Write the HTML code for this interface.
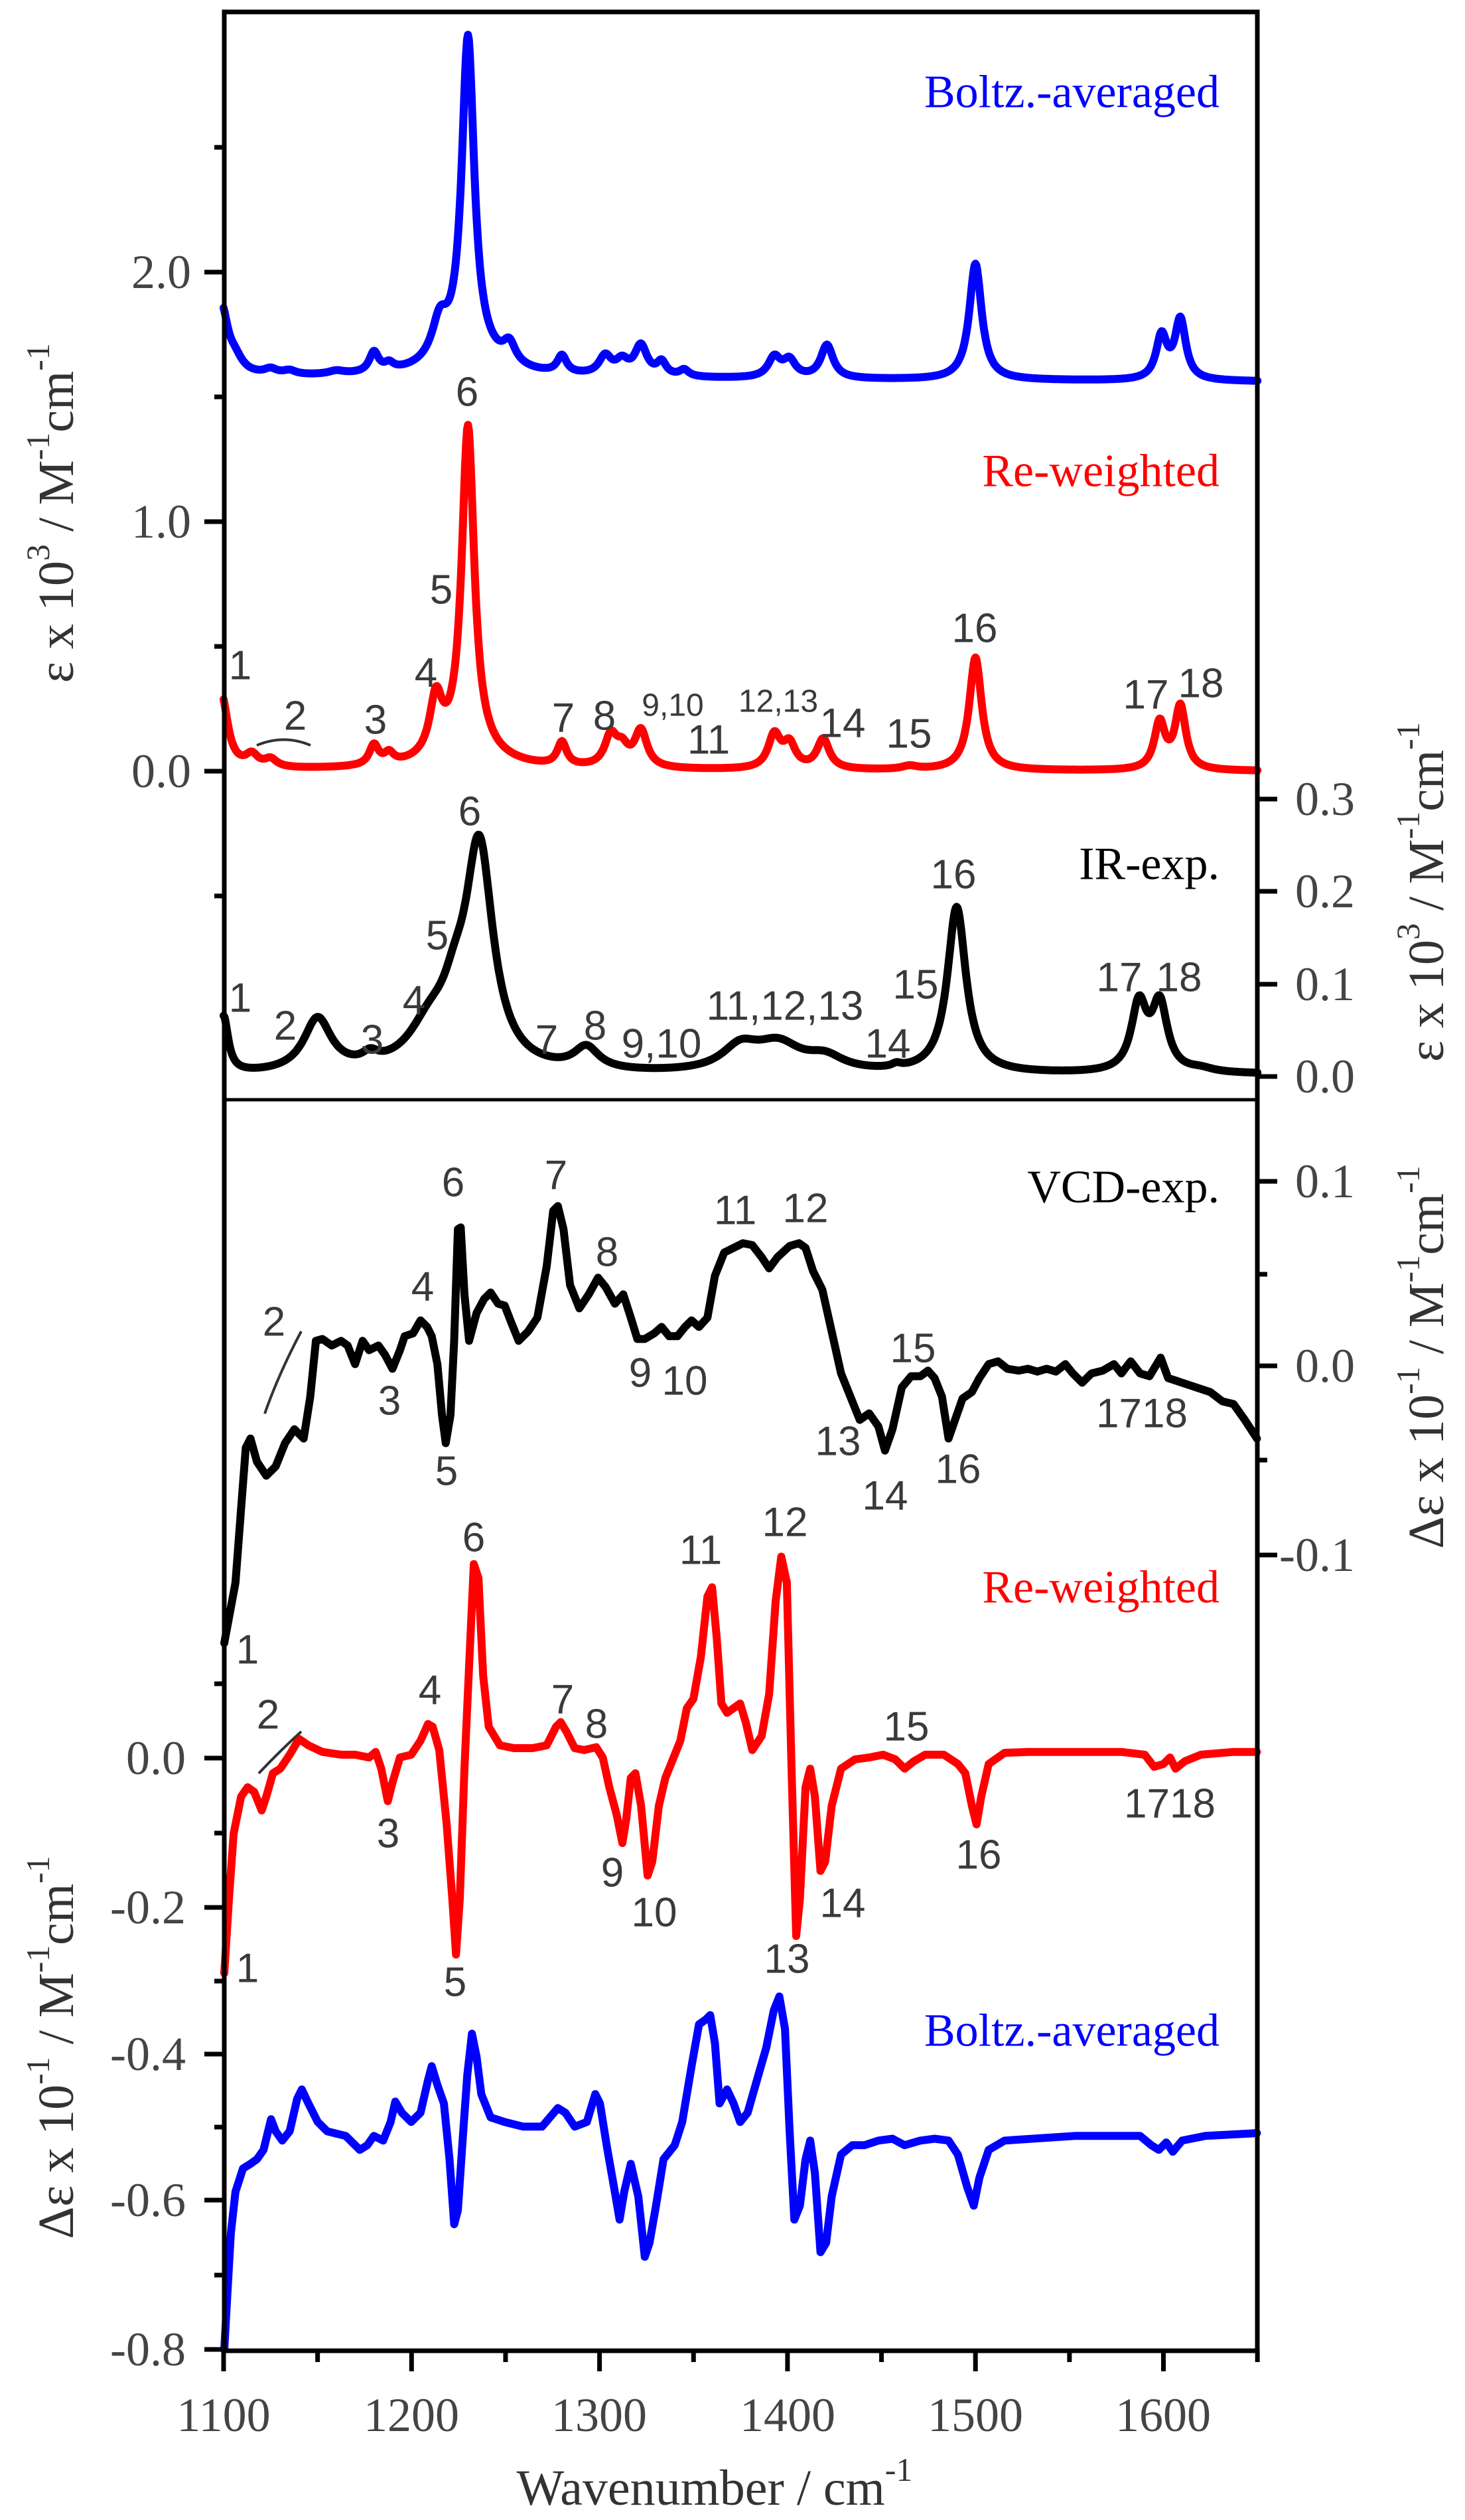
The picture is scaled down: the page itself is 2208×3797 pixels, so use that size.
<!DOCTYPE html>
<html><head><meta charset="utf-8">
<style>
html,body{margin:0;padding:0;background:#fff;}
svg{display:block;}
.n{font-family:"Liberation Sans",sans-serif;font-size:62px;fill:#3a3a3a;text-anchor:middle;dominant-baseline:central;}
.s{font-size:48px;}
.t{font-family:"Liberation Serif",serif;font-size:72px;fill:#444;}
.lg{font-family:"Liberation Serif",serif;font-size:70px;text-anchor:end;dominant-baseline:central;}
.ti{font-family:"Liberation Serif",serif;font-size:76px;fill:#333;text-anchor:middle;dominant-baseline:central;}
</style></head>
<body>
<svg id="s" width="2208" height="3797" viewBox="0 0 2208 3797" xmlns="http://www.w3.org/2000/svg">
<rect width="2208" height="3797" fill="#fff"/>
<g id="curves" fill="none" stroke-width="12" stroke-linejoin="round" stroke-linecap="round"></g>
<g stroke="#000" stroke-width="7" fill="none">
<rect x="338" y="18" width="1557" height="3524"/>
<line x1="338" y1="1657" x2="1895" y2="1657" stroke-width="5"/>
</g>
<g id="ticks" stroke="#000" stroke-width="7"></g>
<g class="t">
<text x="288" y="410" text-anchor="end" dominant-baseline="central">2.0</text>
<text x="288" y="786" text-anchor="end" dominant-baseline="central">1.0</text>
<text x="288" y="1162" text-anchor="end" dominant-baseline="central">0.0</text>
<text x="1952" y="1204" dominant-baseline="central">0.3</text>
<text x="1952" y="1343" dominant-baseline="central">0.2</text>
<text x="1952" y="1483" dominant-baseline="central">0.1</text>
<text x="1952" y="1622" dominant-baseline="central">0.0</text>
<text x="1952" y="1780" dominant-baseline="central">0.1</text>
<text x="1952" y="2058" dominant-baseline="central">0.0</text>
<text x="1928" y="2343" dominant-baseline="central">-0.1</text>
<text x="280" y="2649" text-anchor="end" dominant-baseline="central">0.0</text>
<text x="280" y="2874" text-anchor="end" dominant-baseline="central">-0.2</text>
<text x="280" y="3095" text-anchor="end" dominant-baseline="central">-0.4</text>
<text x="280" y="3315" text-anchor="end" dominant-baseline="central">-0.6</text>
<text x="280" y="3540" text-anchor="end" dominant-baseline="central">-0.8</text>
<text x="337" y="3639" text-anchor="middle" dominant-baseline="central">1100</text>
<text x="620" y="3639" text-anchor="middle" dominant-baseline="central">1200</text>
<text x="903" y="3639" text-anchor="middle" dominant-baseline="central">1300</text>
<text x="1187" y="3639" text-anchor="middle" dominant-baseline="central">1400</text>
<text x="1470" y="3639" text-anchor="middle" dominant-baseline="central">1500</text>
<text x="1753" y="3639" text-anchor="middle" dominant-baseline="central">1600</text>
</g>
<text class="ti" x="1077" y="3749">Wavenumber / cm<tspan dy="-28" font-size="50">-1</tspan></text>
<text class="ti" transform="translate(85,773) rotate(-90)">ε x 10<tspan dy="-28" font-size="50">3</tspan><tspan dy="28"> / M</tspan><tspan dy="-28" font-size="50">-1</tspan><tspan dy="28">cm</tspan><tspan dy="-28" font-size="50">-1</tspan></text>
<text class="ti" transform="translate(2150,1344) rotate(-90)">ε x 10<tspan dy="-28" font-size="50">3</tspan><tspan dy="28"> / M</tspan><tspan dy="-28" font-size="50">-1</tspan><tspan dy="28">cm</tspan><tspan dy="-28" font-size="50">-1</tspan></text>
<text class="ti" transform="translate(2150,2045) rotate(-90)">Δε x 10<tspan dy="-28" font-size="50">-1</tspan><tspan dy="28"> / M</tspan><tspan dy="-28" font-size="50">-1</tspan><tspan dy="28">cm</tspan><tspan dy="-28" font-size="50">-1</tspan></text>
<text class="ti" transform="translate(85,3085) rotate(-90)">Δε x 10<tspan dy="-28" font-size="50">-1</tspan><tspan dy="28"> / M</tspan><tspan dy="-28" font-size="50">-1</tspan><tspan dy="28">cm</tspan><tspan dy="-28" font-size="50">-1</tspan></text>
<text class="lg" x="1838" y="139" fill="#0000ff">Boltz.-averaged</text>
<text class="lg" x="1838" y="710" fill="#ff0000">Re-weighted</text>
<text class="lg" x="1838" y="1302" fill="#000">IR-exp.</text>
<text class="lg" x="1838" y="1789" fill="#000">VCD-exp.</text>
<text class="lg" x="1838" y="2392" fill="#ff0000">Re-weighted</text>
<text class="lg" x="1838" y="3060" fill="#0000ff">Boltz.-averaged</text>
<g class="n">
<text x="362" y="1003">1</text><text x="445" y="1079">2</text><text x="566" y="1085">3</text><text x="642" y="1014">4</text><text x="665" y="889">5</text><text x="704" y="591">6</text><text x="849" y="1082">7</text><text x="911" y="1079">8</text><text class="n s" x="1014" y="1063">9,10</text><text x="1068" y="1115">11</text><text class="n s" x="1173" y="1057">12,13</text><text x="1270" y="1090">14</text><text x="1370" y="1106">15</text><text x="1469" y="947">16</text><text x="1727" y="1047">17</text><text x="1810" y="1030">18</text>
<text x="362" y="1504">1</text><text x="430" y="1546">2</text><text x="561" y="1567">3</text><text x="624" y="1508">4</text><text x="659" y="1410">5</text><text x="708" y="1223">6</text><text x="824" y="1567">7</text><text x="897" y="1546">8</text><text x="997" y="1573">9,10</text><text x="1183" y="1516">11,12,13</text><text x="1338" y="1573">14</text><text x="1380" y="1484">15</text><text x="1437" y="1318">16</text><text x="1687" y="1473">17</text><text x="1777" y="1473">18</text>
<text x="373" y="2486">1</text><text x="413" y="1992">2</text><text x="587" y="2111">3</text><text x="637" y="1939">4</text><text x="673" y="2217">5</text><text x="683" y="1782">6</text><text x="838" y="1771">7</text><text x="915" y="1887">8</text><text x="965" y="2069">9</text><text x="1032" y="2081">10</text><text x="1108" y="1824">11</text><text x="1214" y="1821">12</text><text x="1263" y="2172">13</text><text x="1334" y="2254">14</text><text x="1376" y="2032">15</text><text x="1444" y="2214">16</text><text x="1721" y="2130">1718</text>
<text x="373" y="2966">1</text><text x="404" y="2584">2</text><text x="585" y="2763">3</text><text x="648" y="2547">4</text><text x="686" y="2987">5</text><text x="714" y="2317">6</text><text x="848" y="2561">7</text><text x="899" y="2598">8</text><text x="923" y="2822">9</text><text x="986" y="2882">10</text><text x="1056" y="2336">11</text><text x="1183" y="2294">12</text><text x="1186" y="2952">13</text><text x="1270" y="2868">14</text><text x="1366" y="2602">15</text><text x="1475" y="2795">16</text><text x="1763" y="2718">1718</text>
</g>
<g fill="none" stroke="#333" stroke-width="4">
<path d="M387 1123 Q428 1106 468 1123"/>
<path d="M399 2130 Q420 2070 454 2006"/>
<path d="M390 2672 Q420 2640 454 2609"/>
</g>
</svg>
<script>
(function(){
var NS="http://www.w3.org/2000/svg";
var g=document.getElementById('curves'), tk=document.getElementById('ticks');
function X(w){return 337+(w-1100)*2.833;}
function add(d,c){var p=document.createElementNS(NS,'path');p.setAttribute('d',d);p.setAttribute('stroke',c);g.appendChild(p);}
function lor(base0,base1,pk){var d='';for(var w=1100;w<=1650;w+=0.5){var y=base0+(base1-base0)*(w-1100)/550;for(var i=0;i<pk.length;i++){var q=(w-pk[i][0])/pk[i][2];y-=pk[i][1]/(1+q*q);}d+=(d?'L':'M')+X(w).toFixed(1)+' '+y.toFixed(1);}return d;}
add(lor(568,575,[[1099,100,4],[1106,20,5],[1125,8,4],[1135,6,4],[1160,5,5],[1180,30,3],[1188,10,3],[1215,55,5],[1230,480,4],[1230,30,20],[1252,30,4],[1280,26,3],[1303,28,4],[1312,20,4],[1322,45,4],[1333,20,3],[1345,10,3],[1393,30,4],[1401,25,4],[1421,50,4],[1500,175,4],[1599,65,3.5],[1609,90,3.5]]),'#0000ff');
add(lor(1160,1162,[[1099,110,4],[1115,18,4],[1125,12,4],[1180,30,3],[1188,15,3],[1213,85,4],[1230,490,4],[1230,25,20],[1280,35,3],[1306,45,4],[1312,25,4],[1322,55,4],[1393,50,4],[1401,35,4],[1419,45,4],[1465,5,5],[1500,170,4],[1598,70,3.5],[1609,95,3.5]]),'#ff0000');
add(lor(1621,1619,[[1100,85,3],[1150,80,9],[1178,14,5],[1210,60,14],[1223,60,8],[1236,330,9],[1293,33,8],[1375,35,12],[1395,40,15],[1420,20,12],[1458,5,3],[1490,250,6],[1587,100,5],[1598,100,5],[1620,5,8]]),'#000');
function poly(pts,c){var d='';for(var i=0;i<pts.length;i+=2){var x=pts[i]/0.71,y=1600+pts[i+1]/0.7137;if(x<338)x=338;if(x>1895)x=1895;d+=(d?'L':'M')+x.toFixed(1)+' '+y.toFixed(1);}add(d,c);}
poly([240,625,252,560,258,480,263,415,268,405,275,430,285,445,295,435,305,410,315,395,325,405,332,360,338,300,345,298,355,305,365,300,372,305,380,325,388,300,395,310,405,305,412,315,420,330,428,310,433,295,442,292,450,278,457,285,462,295,468,325,473,380,477,410,482,380,486,300,490,180,493,178,497,250,502,300,510,270,518,255,525,248,533,260,540,262,547,280,555,300,565,290,575,275,585,220,592,160,597,155,603,180,610,240,620,265,630,250,640,232,648,242,658,260,667,250,675,275,682,298,690,298,700,292,708,285,716,295,725,295,733,285,740,278,748,285,757,275,765,230,775,205,785,200,795,195,805,197,815,210,823,222,832,210,845,198,855,195,862,200,870,225,880,245,890,290,900,335,910,360,920,385,930,378,940,392,947,418,955,395,965,350,975,338,985,338,993,332,1000,340,1008,360,1015,405,1022,385,1030,362,1040,355,1048,340,1058,325,1068,322,1078,330,1090,332,1100,330,1110,333,1120,330,1130,333,1140,325,1148,335,1158,345,1168,335,1180,332,1192,325,1200,335,1210,322,1220,335,1230,338,1242,318,1250,340,1265,345,1280,350,1295,355,1308,365,1320,368,1332,385,1345,405],'#000');
poly([240,980,245,900,250,830,258,790,265,780,272,785,280,805,285,790,292,765,300,760,310,745,320,728,330,735,345,742,365,745,380,745,395,748,402,742,408,760,415,795,420,775,428,748,440,745,450,730,458,712,463,715,470,740,478,820,484,900,488,960,492,900,497,760,502,650,507,540,512,555,517,660,523,715,535,735,550,738,570,738,585,735,595,715,600,710,606,720,615,738,625,740,638,737,645,748,652,780,660,810,666,840,670,815,675,770,680,765,686,800,693,875,698,860,705,800,712,770,720,750,728,730,735,695,742,685,750,640,757,575,762,565,767,620,772,690,778,700,785,695,792,690,798,710,805,740,815,725,823,680,830,580,836,532,842,560,847,760,852,940,856,900,862,780,867,760,872,790,878,870,883,860,890,800,900,760,915,750,930,748,945,745,958,750,968,760,978,752,990,745,1010,745,1025,755,1033,765,1040,800,1045,820,1050,790,1058,755,1075,743,1100,742,1150,742,1200,742,1225,745,1235,758,1245,755,1252,748,1258,760,1268,752,1285,745,1320,742,1345,742],'#ff0000');
poly([240,1385,243,1330,247,1260,252,1215,260,1190,268,1185,275,1180,282,1170,290,1137,295,1150,302,1160,310,1150,318,1115,323,1105,330,1120,340,1140,350,1150,370,1155,385,1170,393,1165,400,1155,410,1160,418,1140,423,1118,430,1130,440,1140,450,1130,458,1095,462,1080,468,1100,475,1120,481,1180,486,1250,490,1235,495,1160,500,1090,505,1045,510,1070,515,1110,525,1135,540,1140,560,1145,580,1145,597,1125,605,1130,615,1145,628,1140,637,1110,642,1120,650,1170,657,1210,663,1245,668,1215,675,1185,683,1220,690,1285,695,1270,702,1230,710,1180,722,1165,730,1140,740,1080,748,1035,755,1030,760,1025,765,1055,770,1120,778,1105,785,1120,792,1140,800,1130,810,1095,820,1060,828,1020,834,1005,840,1040,845,1150,850,1245,856,1230,862,1180,867,1160,872,1195,878,1280,884,1270,890,1220,900,1175,912,1165,925,1165,940,1160,955,1158,968,1165,985,1160,1000,1158,1015,1160,1025,1175,1035,1210,1042,1230,1048,1200,1058,1170,1075,1160,1150,1155,1220,1155,1232,1165,1240,1170,1248,1162,1255,1172,1265,1160,1290,1155,1345,1152],'#0000ff');
function ln(x1,y1,x2,y2){var l=document.createElementNS(NS,'line');l.setAttribute('x1',x1);l.setAttribute('y1',y1);l.setAttribute('x2',x2);l.setAttribute('y2',y2);tk.appendChild(l);}
[[410,30],[786,30],[1162,30],[222,15],[598,15],[974,15],[1350,15]].forEach(function(t){ln(338-t[1],t[0],338,t[0]);});
[1204,1343,1483,1622].forEach(function(y){ln(1895,y,1925,y);});
[[1780,30],[2058,30],[2343,30],[1920,15],[2200,15]].forEach(function(t){ln(1895,t[0],1895+t[1],t[0]);});
[[2649,30],[2874,30],[3095,30],[3315,30],[3540,30],[2537,15],[2762,15],[2985,15],[3205,15],[3428,15]].forEach(function(t){ln(338-t[1],t[0],338,t[0]);});
for(var w=1100;w<=1650;w+=50){var maj=(w%100==0);ln(X(w),3542,X(w),3542+(maj?31:17));}
})();
</script>
</body></html>
